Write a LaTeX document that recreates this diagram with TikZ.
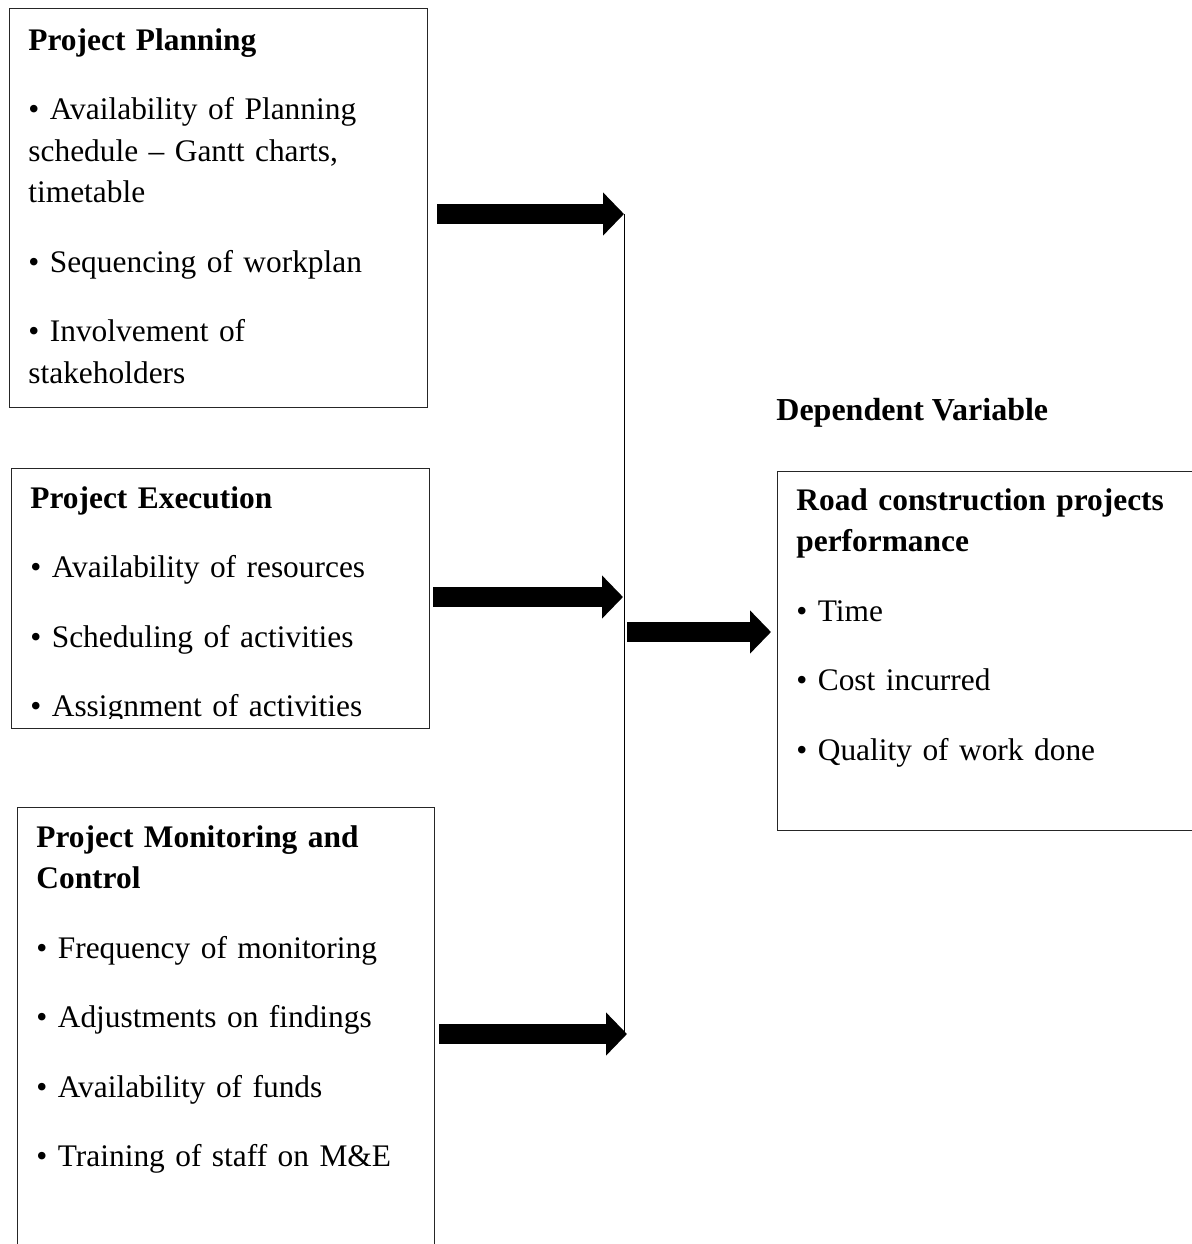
\documentclass[tikz,border=0pt]{standalone}
\usepackage{fontspec}
\setmainfont{Liberation Serif}
\usetikzlibrary{arrows.meta, positioning}

\begin{document}
\begin{tikzpicture}[
    x=0.5pt, y=-0.5pt,
    varbox/.style={
        draw=black!85,
        line width=0.5pt,
        anchor=north west,
        inner sep=0pt
    },
    vartext/.style={
        anchor=base west,
        inner sep=0pt,
        text width=#1,
        font=\fontsize{15.7pt}{20.75pt}\selectfont,
        execute at begin node={\raggedright\setlength{\parskip}{14pt}}
    },
    fatarrow/.style={line width=10pt, -{Triangle[length=10.5pt, width=21pt]}},
    bus/.style={line width=0.5pt, draw=black}
]

\useasboundingbox (0,0) rectangle (1192,1244);
\clip (0,0) rectangle (1192,1244);

% Independent variables
\node[varbox, minimum width=209pt, minimum height=199.5pt] (plan) at (9,8) {};
\node[vartext=200pt] (plantext) at (28,50) {
    \textbf{Project Planning}\par
    • Availability of Planning\\schedule – Gantt charts,\\timetable\par
    • Sequencing of workplan\par
    • Involvement of\\stakeholders
};

\node[varbox, minimum width=209pt, minimum height=130pt] (exec) at (11,468) {};
\begin{scope}
    % text frame cuts the last line
    \clip (exec.north west) rectangle ([yshift=5.5pt]exec.south east);
    \node[vartext=200pt] (exectext) at (30,508) {
        \textbf{Project Execution}\par
        • Availability of resources\par
        • Scheduling of activities\par
        • Assignment of activities
    };
\end{scope}

\node[varbox, minimum width=208.5pt, minimum height=230pt] (monit) at (17,807) {};
\node[vartext=200pt] (monittext) at (36,847) {
    \textbf{Project Monitoring and\\Control}\par
    • Frequency of monitoring\par
    • Adjustments on findings\par
    • Availability of funds\par
    • Training of staff on M\&E
};

% Dependent variable
\node[font=\fontsize{16pt}{20.75pt}\selectfont\bfseries, anchor=base west, inner sep=0pt] (deplabel) at (776,420) {Dependent Variable};

\node[varbox, minimum width=220pt, minimum height=179.5pt] (perf) at (777,471) {};
\node[vartext=200pt] (perftext) at (796,510) {
    \textbf{Road construction projects\\performance}\par
    • Time\par
    • Cost incurred\par
    • Quality of work done
};

% Connectors
\coordinate (jplan) at (624,214);
\coordinate (jexec) at (623,597);
\coordinate (jmonit) at (627,1034);
\coordinate (jout) at (624,632);

\draw[bus] (jplan) -- (jplan |- jmonit);
\draw[fatarrow, shorten <=4.5pt] (plan.east |- jplan) -- (jplan);
\draw[fatarrow, shorten <=1.5pt] (exec.east |- jexec) -- (jexec);
\draw[fatarrow, shorten <=2pt] (monit.east |- jmonit) -- (jmonit);
\draw[fatarrow, shorten <=1.5pt, shorten >=3pt] (jout) -- (perf.west |- jout);

\end{tikzpicture}
\end{document}
